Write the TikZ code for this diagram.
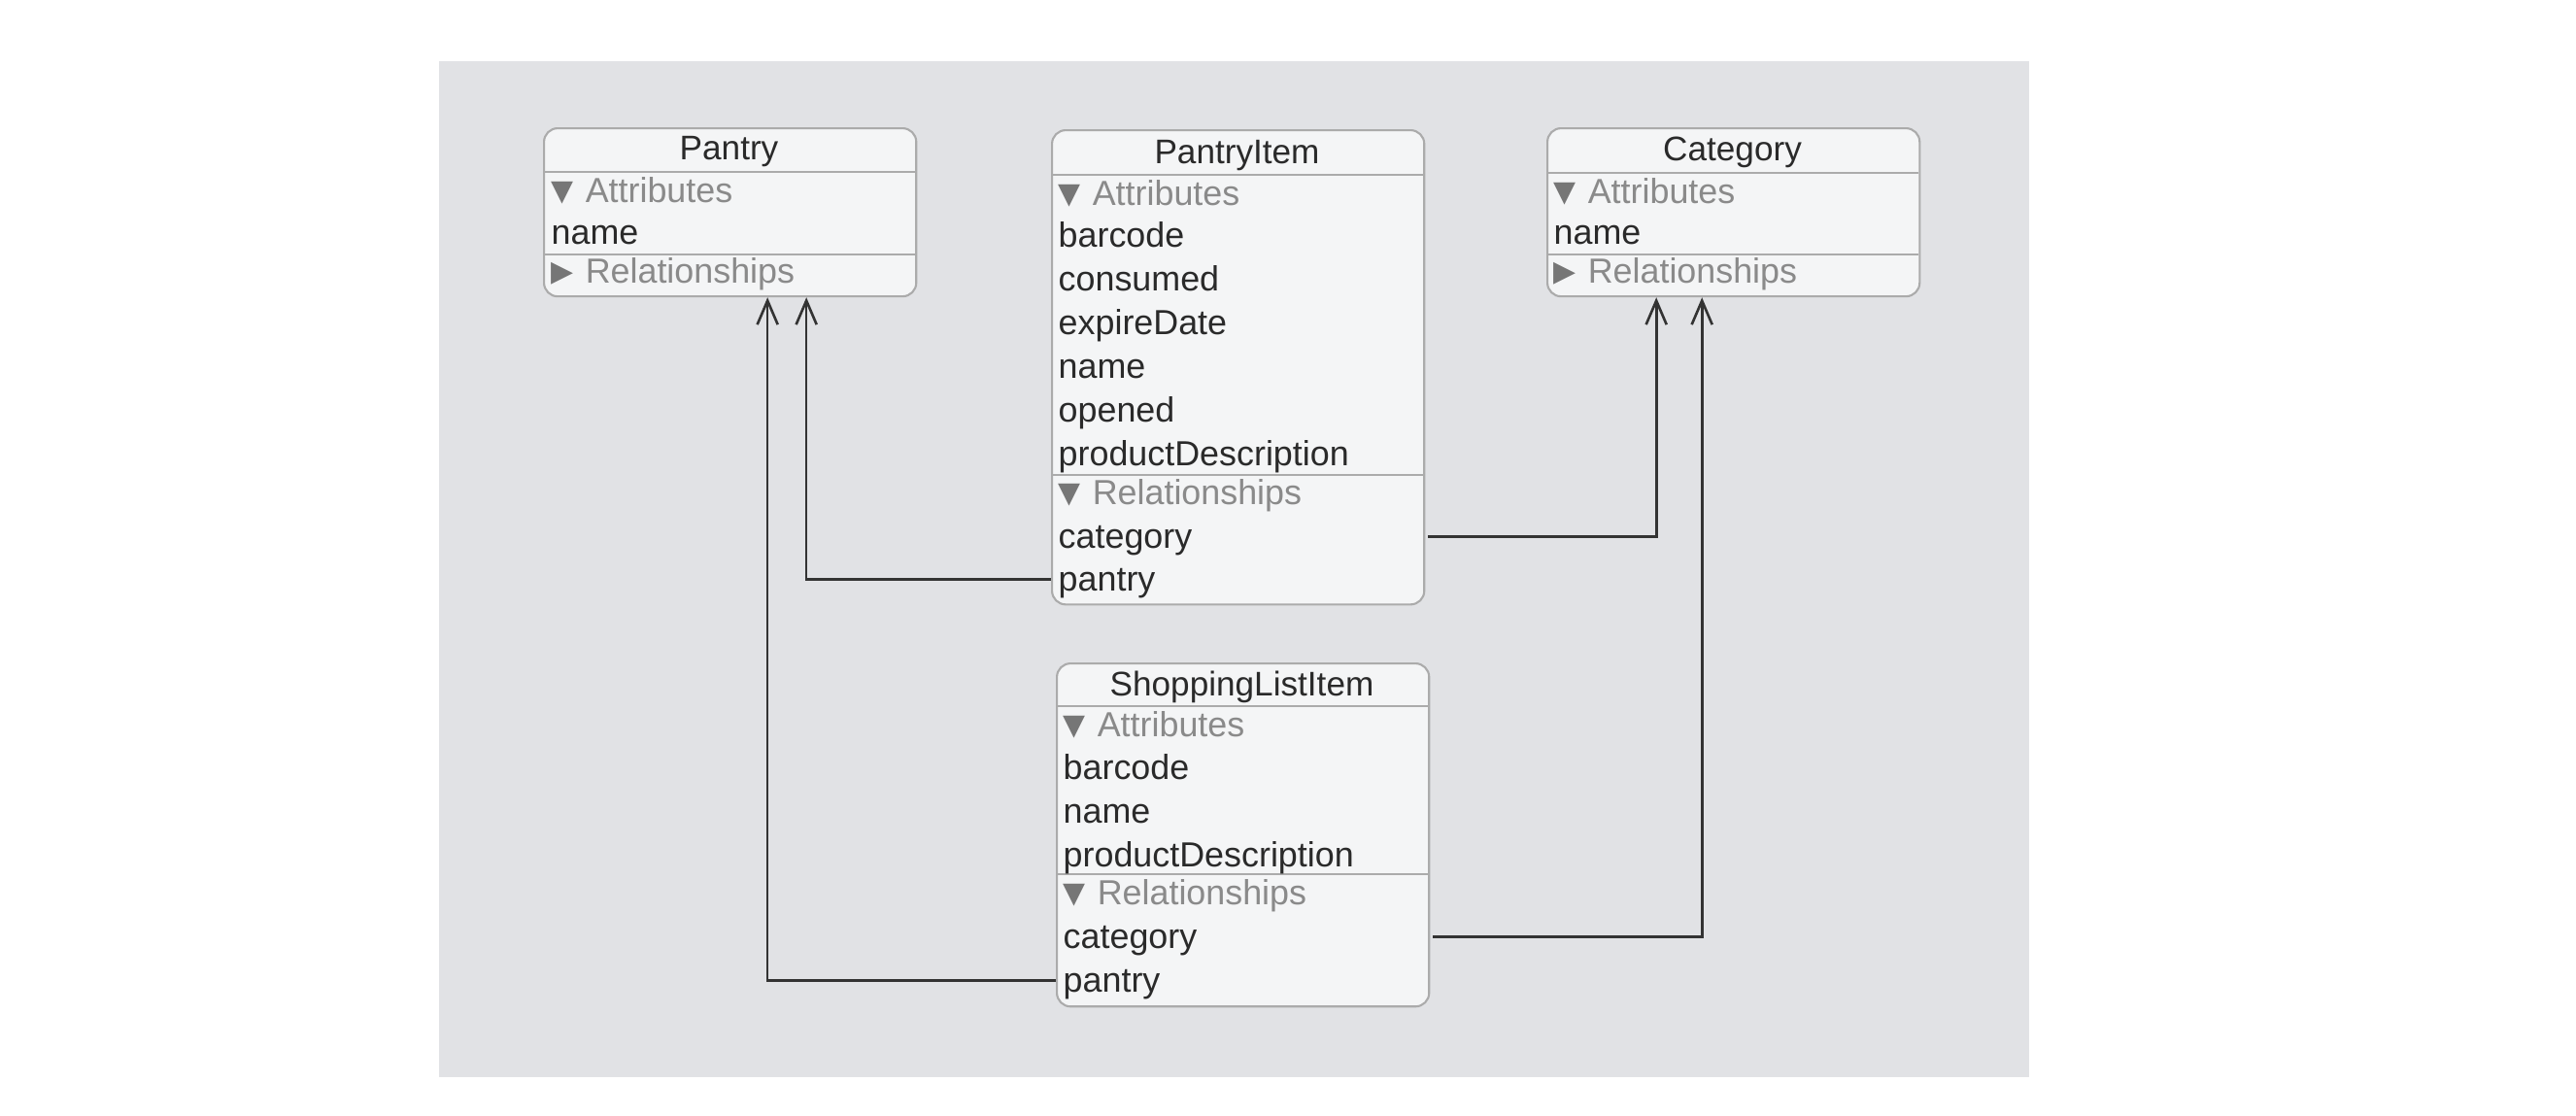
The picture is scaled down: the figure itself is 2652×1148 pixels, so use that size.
\documentclass[tikz,border=0pt]{standalone}
\usepackage{fontspec}
\setmainfont{Liberation Sans}
\newfontfamily\symfont{DejaVu Sans}
\usetikzlibrary{arrows.meta,calc}

\definecolor{canvas}{HTML}{E1E2E5}
\definecolor{boxfill}{HTML}{F4F5F6}
\definecolor{boxline}{HTML}{ABABAB}
\definecolor{ink}{HTML}{2A2A2A}
\definecolor{section}{HTML}{8A8A8A}
\definecolor{triangle}{HTML}{767676}
\definecolor{relline}{HTML}{333333}

\newcommand{\opensec}[1]{{\symfont\fontsize{8.5}{10}\selectfont\color{triangle}\raisebox{0.5pt}{▼}}\hspace{0.6pt} #1}
\newcommand{\closedsec}[1]{{\symfont\fontsize{8.5}{10}\selectfont\color{triangle}\raisebox{0.5pt}{▶}}\hspace{0.6pt} #1}

\tikzset{
	entity/.style={draw=boxline, fill=boxfill, line width=0.6pt, rounded corners=4pt,
		minimum width=3.83cm, inner sep=0pt, anchor=north west},
	divider/.style={draw=boxline, line width=0.6pt},
	title/.style={anchor=base, text=ink, font=\fontsize{10}{12}\selectfont, inner sep=0pt},
	attr/.style={anchor=base west, text=ink, font=\fontsize{10.2}{12}\selectfont, inner sep=0pt,
		text height=8pt, text depth=1.5pt},
	sect/.style={attr, text=section},
	rel/.style={draw=relline, line width=0.75pt, -{Straight Barb[length=7pt,width=6pt]}},
}

\begin{document}
\begin{tikzpicture}[x=0.01cm, y=-0.01cm]
	\useasboundingbox (0,0) rectangle (2652,1148);
	\fill[canvas] (452,63) rectangle (2089,1109);

	% Pantry
	\node[entity, minimum height=1.73cm] (pantry) at (559,131) {};
	\node[title] (pantry-title) at (750.5,164) {Pantry};
	\draw[divider] (559,177) -- (942,177);
	\draw[divider] (559,262) -- (942,262);
	\node[sect] (pantry-attr) at (567,208) {\opensec{Attributes}};
	\node[attr] (pantry-name) at (567,251) {name};
	\node[sect] (pantry-rel) at (567,291) {\closedsec{Relationships}};

	% PantryItem
	\node[entity, minimum height=4.88cm] (pitem) at (1082,133) {};
	\node[title] (pi-title) at (1273.5,168) {PantryItem};
	\draw[divider] (1082,180) -- (1465,180);
	\draw[divider] (1082,489) -- (1465,489);
	\node[sect] (pi-attr) at (1089,211) {\opensec{Attributes}};
	\foreach \t [count=\i] in {barcode,consumed,expireDate,name,opened,productDescription}
		\node[attr] (pi-\t) at (1089,{209+45*\i}) {\t};
	\node[sect] (pi-rel) at (1089,519) {\opensec{Relationships}};
	\node[attr] (pi-category) at (1089,564) {category};
	\node[attr] (pi-pantry) at (1089,608) {pantry};

	% Category
	\node[entity, minimum height=1.73cm] (category) at (1592,131) {};
	\node[title] (cat-title) at (1783.5,165) {Category};
	\draw[divider] (1592,178) -- (1975,178);
	\draw[divider] (1592,262) -- (1975,262);
	\node[sect] (cat-attr) at (1599,209) {\opensec{Attributes}};
	\node[attr] (cat-name) at (1599,251) {name};
	\node[sect] (cat-rel) at (1599,291) {\closedsec{Relationships}};

	% ShoppingListItem
	\node[entity, minimum height=3.53cm] (sli) at (1087,682) {};
	\node[title] (sli-title) at (1278.5,716) {ShoppingListItem};
	\draw[divider] (1087,727) -- (1470,727);
	\draw[divider] (1087,900) -- (1470,900);
	\node[sect] (sli-attr) at (1094,758) {\opensec{Attributes}};
	\foreach \t [count=\i] in {barcode,name,productDescription}
		\node[attr] (sli-\t) at (1094,{757+45*\i}) {\t};
	\node[sect] (sli-rel) at (1094,931) {\opensec{Relationships}};
	\node[attr] (sli-category) at (1094,976) {category};
	\node[attr] (sli-pantry) at (1094,1021) {pantry};

	% relationships
	\draw[rel] (pitem.west |- pi-pantry) -| ($(pantry.south)+(78.5,0)$);
	\draw[rel] ($(pitem.east |- pi-category)+(3,0)$) -| ($(category.south)+(-79.5,0)$);
	\draw[rel] (sli.west |- sli-pantry) -| ($(pantry.south)+(38.5,0)$);
	\draw[rel] ($(sli.east |- sli-category)+(3,0)$) -| ($(category.south)+(-32.5,0)$);
\end{tikzpicture}
\end{document}
